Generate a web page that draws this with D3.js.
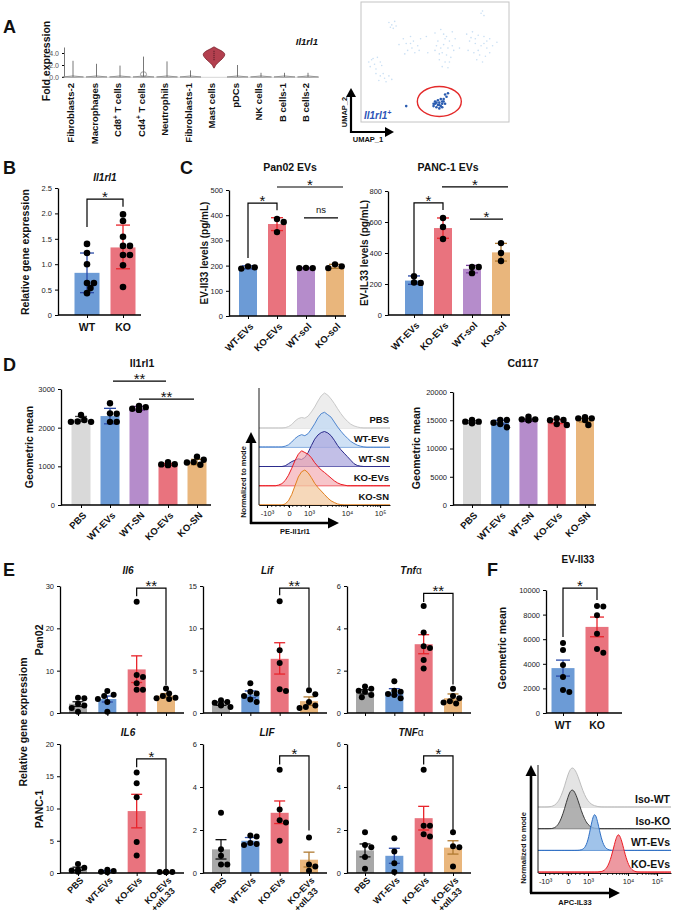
<!DOCTYPE html>
<html><head><meta charset="utf-8">
<script src="https://cdn.jsdelivr.net/npm/d3@7"></script>
<style>body{margin:0;background:#fff}svg{display:block}</style>
</head><body>
<svg id="fig" width="673" height="919"></svg>
<script>
// ================= DATA =================
// Panel A
const cellTypes = ["Fibroblasts-2","Macrophages","Cd8+ T cells","Cd4+ T cells","Neutrophils","Fibroblasts-1","Mast cells","pDCs","NK cells","B cells-1","B cells-2"];
const violinMax = [2.7,2.2,1.9,3.4,2.6,1.1,5.0,2.0,0.7,0.7,0.7];
const violinTicks = [0,2,4];
const mastLevels = [1.5,1.9,2.3,2.7,3.1,3.5,3.8,4.1,4.4,4.7,5.0];
const mastWidth  = [0.03,0.12,0.3,0.55,0.8,0.95,1.0,0.9,0.65,0.3,0.03];
const umapLight = [[18,84],[20,82],[22,85],[19,80],[23,81],[21,79],
 [28,70],[30,66],[33,72],[35,68],[38,64],[31,60],[36,58],[40,70],[34,62],[29,57],[39,60],[33,66],
 [50,75],[54,78],[58,72],[62,76],[52,68],[56,65],[60,68],[64,70],[50,60],[55,58],[59,62],[63,60],[53,52],[57,50],[61,54],[55,46],[59,45],[51,64],[57,70],[62,64],[54,62],[58,56],[60,50],[56,74],[53,57],
 [72,74],[76,76],[80,73],[84,72],[88,70],[74,68],[78,66],[82,64],[86,62],[90,64],[73,60],[77,58],[81,56],[85,55],[79,52],[83,50],[88,58],[75,71],[80,60],[84,66],[78,70],[86,68],
 [4,50],[6,52],[8,48],[10,54],[12,50],[5,46],[9,44],[13,47],[7,53],
 [9,40],[12,38],[15,36],[18,38],[11,34],[16,33],[20,35],[14,40],
 [82,92],[84,90],[83,94],[45,58],[67,62],[25,65],[44,72],[93,67]];
const umapDark = [[49,12],[50,14],[51,11],[52,13],[53,15],[54,12],[55,14],[56,16],[52,17],[54,18],[50,16],[53,10],[55,11],[57,14],[51,15],[56,18],[58,20],[57,22],[59,23],[53,13],[55,16],[49,14],[30,12]];

// Panel B
const bCats = ["WT","KO"];
const bMeans = [0.83,1.33];
const bErr = [[0.44,1.22],[0.91,1.77]];
const bPoints = [[1.40,1.22,1.0,0.63,0.63,0.53,0.43],[1.98,1.85,1.54,1.36,1.36,1.18,1.18,0.98,0.55]];
const bTicks = [0,0.5,1,1.5,2,2.5];
const bSig = [{kind:"bracket",a:0,b:1,top:2.28,la:1.73,lb:2.13,label:"*"}];

// Panel C
const cCats = ["WT-EVs","KO-EVs","WT-sol","KO-sol"];
const pan02Means = [193,365,190,197];
const pan02Err = [[187,199],[339,390],[188,192],[189,205]];
const pan02Points = [[188,197,193],[385,333,373],[190,191,190],[190,205,197]];
const pan02Ticks = [0,100,200,300,400,500];
const pan02Sig = [{kind:"bracket",a:0,b:1,top:448,la:230,lb:420,label:"*"},{kind:"line",a:1,b:3,top:512,label:"*",dx:[0,8]},{kind:"line",a:2,b:3,top:389,label:"ns",dx:[-2,3]}];
const panc1Means = [222,561,298,404];
const panc1Err = [[198,252],[495,626],[272,320],[348,462]];
const panc1Points = [[250,210,207],[626,568,490],[310,270,310],[464,400,348]];
const panc1Ticks = [0,200,400,600,800];
const panc1Sig = [{kind:"bracket",a:0,b:1,top:723,la:271,lb:677,label:"*"},{kind:"line",a:1,b:3,top:826,label:"*",dx:[-1,7]},{kind:"line",a:2,b:3,top:619,label:"*",dx:[-2,2]}];

// Panel D
const dCats = ["PBS","WT-EVs","WT-SN","KO-EVs","KO-SN"];
const il1rl1Means = [2220,2300,2500,1050,1110];
const il1rl1Err = [[2160,2290],[2100,2500],[2450,2550],[1025,1075],[1040,1180]];
const il1rl1Points = [[2150,2200,2150,2330,2160],[2630,2370,2360,2150,2150],[2560,2530,2490,2470,2460],[1110,1030,1050,1045,1055],[1250,1170,1110,1100,1040]];
const il1rl1Ticks = [0,1000,2000,3000];
const il1rl1Sig = [{kind:"line",a:1,b:3,top:3204,label:"**",dx:[3,-2]},{kind:"line",a:2,b:4,top:2739,label:"**",dx:[0,-3]}];
const cd117Means = [14700,14700,14950,14750,15000];
const cd117Err = [[14500,14900],[14300,15000],[14800,15200],[14400,15100],[14700,15300]];
const cd117Points = [[14460,15040,14750,14750],[15040,15040,13750,14570,14330],[15630,15160,15160,15010,15050],[15340,15040,15010,14160,14330],[15520,15340,15340,15040,14160]];
const cd117Ticks = [0,5000,10000,15000,20000];
// flow histograms (normalized to mode), bins every 2.5 channel units over 0..100
const histStep = 2.5;
const histTickLabels = ["-10³","0","10³","10⁴","10⁵"];
const dHistTicks = [6.1,22.9,38.2,67.2,92.4];
const dHistNames = ["PBS","WT-EVs","WT-SN","KO-EVs","KO-SN"];
const dHistPBS  = [0,0,0,0,0,0,0,0,0.01,0.04,0.1,0.2,0.27,0.3,0.28,0.34,0.46,0.6,0.77,0.92,1.0,0.94,0.83,0.7,0.55,0.41,0.29,0.19,0.11,0.06,0.03,0.01,0,0,0,0,0,0,0,0,0];
const dHistWTEV = [0.01,0.01,0.01,0.01,0.01,0.01,0.01,0.01,0.03,0.07,0.15,0.25,0.32,0.36,0.33,0.39,0.52,0.67,0.84,0.96,1.0,0.93,0.86,0.72,0.58,0.46,0.35,0.26,0.17,0.11,0.06,0.03,0.01,0,0,0,0,0,0,0,0];
const dHistWTSN = [0,0,0,0,0,0,0,0,0.02,0.08,0.14,0.18,0.22,0.2,0.26,0.4,0.6,0.78,0.9,0.97,1.0,0.96,0.88,0.75,0.6,0.48,0.38,0.28,0.18,0.08,0.03,0.01,0,0,0,0,0,0,0,0,0];
const dHistKOEV = [0,0,0,0,0,0,0.02,0.06,0.15,0.3,0.5,0.72,0.9,1.0,0.95,0.9,0.8,0.66,0.55,0.45,0.38,0.3,0.22,0.14,0.08,0.04,0.02,0,0,0,0,0,0,0,0,0,0,0,0,0,0];
const dHistKOSN = [0,0,0,0,0,0,0,0,0.03,0.12,0.3,0.55,0.8,0.95,1.0,0.92,0.78,0.62,0.5,0.4,0.3,0.2,0.12,0.07,0.03,0.01,0,0,0,0,0,0,0,0,0,0,0,0,0,0,0];

// Panel E
const eCats = ["PBS","WT-EVs","KO-EVs","KO-EVs\n+αIL33"];
const il6MouseMeans = [2.2,3.3,10.3,4.1];
const il6MouseErr = [[1.55,2.65],[2.6,4.0],[7.2,13.5],[3.6,4.6]];
const il6MousePoints = [[3.6,3.5,2.2,1.8,1.2,0.3],[5.2,4.3,4.0,3.3,2.6,0.3],[26.3,9.0,8.5,7.0,5.5,5.5],[5.8,4.6,4.0,3.6,3.5,3.3]];
const lifMouseMeans = [1.1,2.2,6.4,1.4];
const lifMouseErr = [[0.9,1.3],[1.8,2.6],[4.6,8.3],[0.9,1.9]];
const lifMousePoints = [[1.5,1.3,1.2,1.0,0.9,0.7],[3.5,2.5,2.3,2.0,1.6,1.3],[13.2,7.4,5.9,2.8,2.6],[2.7,2.2,1.3,0.9,0.6,0.7]];
const tnfMouseMeans = [1.0,1.0,3.25,0.7];
const tnfMouseErr = [[0.9,1.1],[0.85,1.15],[2.8,3.7],[0.5,0.9]];
const tnfMousePoints = [[1.25,1.15,1.05,1.0,0.85,0.75],[1.5,1.05,1.0,0.9,0.85,0.7],[5.05,3.8,3.15,3.07,2.5,2.1],[1.15,0.8,0.7,0.55,0.5,0.45]];
const il6HumanMeans = [0.65,0.28,9.6,0.15];
const il6HumanErr = [[0.4,0.9],[0.15,0.4],[7.0,12.2],[0.1,0.2]];
const il6HumanPoints = [[1.4,0.8,0.5,0.4,0.2],[0.5,0.3,0.2,0.1],[15.6,13.9,11.75,4.8,2.7],[0.2,0.15,0.15,0.1]];
const lifHumanMeans = [1.1,1.5,2.8,0.62];
const lifHumanErr = [[0.65,1.55],[1.35,1.65],[2.3,3.35],[0.28,0.97]];
const lifHumanPoints = [[2.8,1.1,0.8,0.4,0.4],[1.75,1.7,1.4,1.35,1.3],[4.8,2.95,2.45,2.35,1.5],[1.65,0.4,0.3,0.1]];
const tnfHumanMeans = [1.05,0.8,2.55,1.18];
const tnfHumanErr = [[0.75,1.35],[0.45,1.15],[2.0,3.1],[0.88,1.5]];
const tnfHumanPoints = [[1.9,1.3,1.2,0.75,0.2],[1.62,1.0,0.45,0.05],[4.8,2.2,2.2,1.8,1.7],[1.9,1.25,1.2,0.3]];

// Panel F
const fCats = ["WT","KO"];
const fMeans = [3650,7000];
const fErr = [[3000,4300],[6200,7800]];
const fPoints = [[5690,5120,3900,2930,1870,1710],[8700,8650,7950,6450,5200,4900]];
const fTicks = [0,2000,4000,6000,8000,10000];
const fSig = [{kind:"bracket",a:0,b:1,top:10160,la:6180,lb:9190,label:"*"}];
const fHistTicks = [5.3,22.6,37.6,67.7,89.5];
const fHistNames = ["Iso-WT","Iso-KO","WT-EVs","KO-EVs"];
const fHistIsoWT = [0,0,0,0,0.01,0.04,0.12,0.28,0.52,0.82,1.0,0.96,0.78,0.52,0.3,0.15,0.07,0.03,0.01,0,0,0,0,0,0,0,0,0,0,0,0,0,0,0,0,0,0,0,0,0,0];
const fHistIsoKO = [0,0,0,0,0,0.02,0.09,0.25,0.5,0.8,1.0,0.94,0.72,0.45,0.24,0.1,0.04,0.01,0,0,0,0,0,0,0,0,0,0,0,0,0,0,0,0,0,0,0,0,0,0,0];
const fHistWTEV = [0,0,0,0,0,0,0,0,0,0,0,0,0,0.01,0.05,0.22,0.65,1.0,0.7,0.3,0.08,0.02,0,0,0,0,0,0,0,0,0,0,0,0,0,0,0,0,0,0,0];
const fHistKOEV = [0,0,0,0,0,0,0,0,0,0,0,0,0,0,0,0,0,0,0,0.01,0.04,0.14,0.36,0.7,1.0,0.85,0.5,0.22,0.07,0.02,0,0,0,0,0,0,0,0,0,0,0];

// ================= DRAWING =================
const FONT = "Arial, 'Liberation Sans', Helvetica, sans-serif";
const svg = d3.select("#fig").attr("font-family", FONT);
const COL = {grey:"#d9d9d9", dgrey:"#a8a8a8", blue:"#6c9bd6", red:"#e9737e", purple:"#b58ccb", orange:"#e9b67c"};
const ECOL = {grey:"#444", black:"#111", blue:"#2a4aa8", red:"#e8242b", purple:"#7b3f9e", orange:"#b07a30"};

function T(x,y,s,o={}){
  let parent = svg, tx = x, ty = y;
  if(o.rotate!=null){
    parent = svg.append("g").attr("transform",`translate(${x},${y}) rotate(${o.rotate})`);
    tx = 0; ty = 0;
  }
  const t = parent.append("text").attr("x",tx).attr("y",ty).text(s)
    .attr("font-size",o.size||10).attr("font-weight",o.weight||"normal")
    .attr("text-anchor",o.anchor||"start").attr("fill",o.fill||"#111");
  if(o.italic) t.attr("font-style","italic");
  return t;
}
function arrow(x1,y1,x2,y2,w,hl,hw){
  const dx=x2-x1, dy=y2-y1, L=Math.hypot(dx,dy), ux=dx/L, uy=dy/L;
  const bx=x2-ux*hl, by=y2-uy*hl;
  svg.append("line").attr("x1",x1).attr("y1",y1).attr("x2",bx).attr("y2",by).attr("stroke","#000").attr("stroke-width",w);
  svg.append("path").attr("d",`M${x2},${y2}L${bx-uy*hw},${by+ux*hw}L${bx+uy*hw},${by-ux*hw}Z`).attr("fill","#000");
}
function styleAxis(ax,fs){
  ax.attr("font-family",FONT).attr("font-size",fs||7.5);
  ax.select(".domain").attr("stroke","#000").attr("stroke-width",1.3);
  ax.selectAll(".tick line").attr("stroke","#000").attr("stroke-width",1);
  ax.selectAll(".tick text").attr("fill","#222");
}
function swarm(vals,y,r,maxOff){
  const idx = vals.map((v,i)=>i).sort((a,b)=>vals[b]-vals[a]);
  const placed=[], off=new Array(vals.length).fill(0), step=r*1.05;
  idx.forEach(i=>{
    const yy=y(vals[i]); const cand=[0];
    for(let k=1;k<12;k++){cand.push(k*step,-k*step);}
    let best=cand.find(dx=>Math.abs(dx)<=maxOff && placed.every(p=>Math.hypot(p.x-dx,p.y-yy)>=2*r*0.9));
    if(best===undefined) best=0;
    off[i]=best; placed.push({x:best,y:yy});
  });
  return off;
}
function barPanel(cfg){
  const g = svg.append("g");
  const y = d3.scaleLinear().domain([0,cfg.ymax]).range([cfg.yb,cfg.yt]);
  const x = d3.scalePoint().domain(cfg.cats).range([cfg.c0,cfg.c1]);
  const r = cfg.r||3.2, capW = cfg.capW||cfg.bw*0.6;
  cfg.cats.forEach((c,i)=>{
    g.append("rect").attr("x",x(c)-cfg.bw/2).attr("y",y(cfg.means[i])).attr("width",cfg.bw)
     .attr("height",y(0)-y(cfg.means[i])).attr("fill",cfg.colors[i]);
  });
  cfg.cats.forEach((c,i)=>{
    const cx=x(c), ec=cfg.errColors[i];
    g.append("line").attr("x1",cx).attr("x2",cx).attr("y1",y(cfg.err[i][0])).attr("y2",y(cfg.err[i][1])).attr("stroke",ec).attr("stroke-width",1.3);
    cfg.err[i].forEach(v=>g.append("line").attr("x1",cx-capW/2).attr("x2",cx+capW/2).attr("y1",y(v)).attr("y2",y(v)).attr("stroke",ec).attr("stroke-width",1.3));
  });
  cfg.cats.forEach((c,i)=>{
    const vals=cfg.points[i], offs=swarm(vals,y,r,cfg.bw/2+2);
    vals.forEach((v,j)=>g.append("circle").attr("cx",x(c)+offs[j]).attr("cy",y(v)).attr("r",r).attr("fill","#000"));
  });
  const ay = g.append("g").attr("transform",`translate(${cfg.x0},0)`)
    .call(d3.axisLeft(y).tickValues(cfg.ticks).tickSize(3).tickSizeOuter(0).tickFormat(cfg.fmt||(d=>String(d))));
  styleAxis(ay);
  g.append("line").attr("x1",cfg.x0).attr("x2",cfg.x1).attr("y1",y(0)).attr("y2",y(0)).attr("stroke","#000").attr("stroke-width",1.3);
  const ax = g.append("g").attr("transform",`translate(0,${y(0)})`).call(d3.axisBottom(x).tickSize(3).tickFormat(""));
  ax.select(".domain").remove();
  ax.selectAll(".tick line").attr("stroke","#000").attr("stroke-width",1);
  if(cfg.labels==="flat"){
    cfg.cats.forEach(c=>T(x(c),y(0)+16,c,{size:10.5,weight:"bold",anchor:"middle"}));
  } else if(cfg.labels==="rot"){
    const fs = cfg.labSize||9.5, oy = cfg.labOffY||11;
    cfg.cats.forEach(c=>{
      const ax0=x(c)+6, ay0=y(0)+oy;
      const t=svg.append("g").attr("transform",`translate(${ax0},${ay0}) rotate(-45)`).append("text")
        .attr("text-anchor","end").attr("font-size",fs).attr("font-weight","bold").attr("fill","#111");
      c.split("\n").forEach((ln,k)=>t.append("tspan").attr("x",k?-5:0).attr("y",k?fs*1.1:0).text(ln));
    });
  }
  (cfg.sig||[]).forEach(s=>{
    const xa=x(cfg.cats[s.a]), xb=x(cfg.cats[s.b]);
    if(s.kind==="bracket"){
      g.append("path").attr("d",`M${xa},${y(s.la)}V${y(s.top)}H${xb}V${y(s.lb)}`).attr("fill","none").attr("stroke","#000").attr("stroke-width",1.2);
      T((xa+xb)/2,y(s.top)+3,s.label,{size:15,anchor:"middle"});
    } else {
      const dx=s.dx||[0,0];
      g.append("line").attr("x1",xa+dx[0]).attr("x2",xb+dx[1]).attr("y1",y(s.top)).attr("y2",y(s.top)).attr("stroke","#000").attr("stroke-width",1.2);
      const mx=(xa+dx[0]+xb+dx[1])/2;
      if(s.label==="ns") T(mx,y(s.top)-5,"ns",{size:9.5,anchor:"middle"});
      else T(mx,y(s.top)+3,s.label,{size:15,anchor:"middle"});
    }
  });
  return {x,y,g};
}
function histPanel(cfg){
  const g = svg.append("g");
  const x = d3.scaleLinear().domain([0,100]).range([cfg.xl,cfg.xr]);
  const h = d3.scaleLinear().domain([0,1]).range([0,cfg.peakH]);
  const baseY = i=>cfg.base0+i*cfg.rowH;
  cfg.rows.forEach((r,i)=>{
    const b=baseY(i);
    g.append("line").attr("x1",cfg.xl).attr("x2",cfg.xr).attr("y1",b).attr("y2",b).attr("stroke",r.stroke).attr("stroke-width",0.9);
    const area=d3.area().x((d,j)=>x(j*histStep)).y0(b).y1(d=>b-h(d)).curve(cfg.curve);
    g.append("path").datum(r.values).attr("d",area).attr("fill",r.fill).attr("fill-opacity",r.op);
    const line=d3.line().x((d,j)=>x(j*histStep)).y(d=>b-h(d)).curve(cfg.curve);
    g.append("path").datum(r.values).attr("d",line).attr("fill","none").attr("stroke",r.stroke).attr("stroke-width",1);
  });
  cfg.rows.forEach((r,i)=>T(cfg.xr-1,baseY(i)-cfg.labOff,r.name,{size:cfg.labSize,weight:"bold",anchor:"end"}));
  g.append("line").attr("x1",cfg.xl).attr("x2",cfg.xl).attr("y1",cfg.yTop).attr("y2",cfg.axisY).attr("stroke","#000").attr("stroke-width",0.9);
  const ax=g.append("g").attr("transform",`translate(0,${cfg.axisY})`)
    .call(d3.axisBottom(x).tickValues(cfg.ticks).tickSize(3).tickSizeOuter(0).tickFormat((d,i)=>histTickLabels[i]));
  styleAxis(ax,7.5); ax.select(".domain").attr("stroke-width",0.9);
  const t=cfg.ticks, minor=[];
  for(let k=1;k<10;k++){ minor.push(t[0]+(t[2]-t[0])*k/10); }
  for(let dct=2;dct<4;dct++) for(let m=2;m<10;m++){ minor.push(t[dct]+(t[dct+1]-t[dct])*Math.log10(m)); }
  const mx=g.append("g").attr("transform",`translate(0,${cfg.axisY})`).call(d3.axisBottom(x).tickValues(minor).tickSize(2).tickFormat(""));
  mx.select(".domain").remove(); mx.selectAll(".tick line").attr("stroke","#000").attr("stroke-width",0.7);
  return {x};
}

// ---------- Panel A ----------
T(3,33,"A",{size:18,weight:"bold"});
const vy = d3.scaleLinear().domain([0,5]).range([77,47]);
const vx = d3.scalePoint().domain(cellTypes).range([73,308]);
const vAxis = svg.append("g").attr("transform","translate(64,0)").call(d3.axisLeft(vy).tickValues(violinTicks).tickSize(2).tickSizeOuter(0));
styleAxis(vAxis,7); vAxis.select(".domain").attr("stroke","#555").attr("stroke-width",0.8);
vAxis.selectAll(".tick text").attr("fill","#555");
cellTypes.forEach((c,i)=>{
  const cx=vx(c), y0=vy(0);
  if(c==="Mast cells"){
    const pts=mastLevels.map((v,k)=>({v,w:mastWidth[k]}));
    const ar=d3.area().y(d=>vy(d.v)).x0(d=>cx-d.w*11).x1(d=>cx+d.w*11).curve(d3.curveBasis);
    svg.append("path").datum(pts).attr("d",ar).attr("fill","#b3404f").attr("stroke","#7a1e2a").attr("stroke-width",0.8);
    svg.append("line").attr("x1",cx).attr("x2",cx).attr("y1",vy(2.8)).attr("y2",vy(4.5)).attr("stroke","#2a0a10").attr("stroke-width",0.8).attr("stroke-dasharray","1,1");
  } else {
    svg.append("path").attr("d",`M${cx-10.5},${y0}Q${cx},${y0-2.2} ${cx+10.5},${y0}Q${cx},${y0+0.8} ${cx-10.5},${y0}Z`).attr("fill","#eee").attr("stroke","#777").attr("stroke-width",0.7);
    svg.append("line").attr("x1",cx).attr("x2",cx).attr("y1",y0).attr("y2",vy(violinMax[i])).attr("stroke","#555").attr("stroke-width",0.8);
    if(c==="Cd4+ T cells") svg.append("ellipse").attr("cx",cx).attr("cy",vy(0.45)).attr("rx",3).attr("ry",2.6).attr("fill","none").attr("stroke","#777").attr("stroke-width",0.7);
  }
  const lx=cx+1, ly=83;
  const t=svg.append("g").attr("transform",`translate(${lx},${ly}) rotate(-90)`).append("text")
    .attr("text-anchor","end").attr("font-size",9.5).attr("font-weight","bold").attr("fill","#111");
  if(c.includes("+")){
    const [a,b]=c.split("+");
    t.append("tspan").text(a); t.append("tspan").attr("dy",-3.5).attr("font-size",6.5).text("+"); t.append("tspan").attr("dy",3.5).text(b);
  } else t.text(c);
});
svg.append("line").attr("x1",64).attr("x2",319).attr("y1",vy(0)+0.3).attr("y2",vy(0)+0.3).attr("stroke","#aaa").attr("stroke-width",0.5);
T(50,61,"Fold expression",{size:10.5,weight:"bold",anchor:"middle",rotate:-90});
T(318,45,"Il1rl1",{size:9.5,weight:"bold",italic:true,anchor:"end"});
// UMAP
svg.append("rect").attr("x",361).attr("y",2).attr("width",148).attr("height",120).attr("fill","#fff").attr("stroke","#c4c4c4").attr("stroke-width",1);
const ux=d3.scaleLinear().domain([0,100]).range([363,507]);
const uy=d3.scaleLinear().domain([0,100]).range([120,4]);
svg.append("g").selectAll("circle").data(umapLight).join("circle").attr("cx",d=>ux(d[0])).attr("cy",d=>uy(d[1])).attr("r",0.8).attr("fill","#9cc4ea").attr("opacity",0.55);
svg.append("g").selectAll("circle").data(umapDark).join("circle").attr("cx",d=>ux(d[0])).attr("cy",d=>uy(d[1])).attr("r",1.3).attr("fill","#2a5cb0");
svg.append("ellipse").attr("cx",ux(53)).attr("cy",uy(16)).attr("rx",22).attr("ry",15).attr("fill","none").attr("stroke","#e42a2a").attr("stroke-width",1.4);
{const t=T(364,119,"Il1rl1",{size:10,weight:"bold",italic:true,fill:"#2d55b8"}); t.append("tspan").attr("dy",-4).attr("font-size",7).text("+");}
arrow(351,133,351,88,2.2,9,5);
arrow(350,132,394,132,2.2,9,5);
T(347,112,"UMAP_2",{size:7.5,weight:"bold",anchor:"middle",rotate:-90});
T(368,142,"UMAP_1",{size:7.5,weight:"bold",anchor:"middle"});

// ---------- Panel B ----------
T(3,174,"B",{size:18,weight:"bold"});
T(105,181,"Il1rl1",{size:10,weight:"bold",italic:true,anchor:"middle"});
barPanel({cats:bCats,means:bMeans,err:bErr,points:bPoints,ticks:bTicks,fmt:d=>d===0?"0":d.toFixed(1),
  x0:58,x1:141,yb:315,yt:188,ymax:2.5,c0:87,c1:123,bw:25,r:3.3,capW:14,
  colors:[COL.blue,COL.red],errColors:[ECOL.blue,ECOL.red],labels:"flat",sig:bSig});
T(29,252,"Relative gene expression",{size:10.5,weight:"bold",anchor:"middle",rotate:-90});

// ---------- Panel C ----------
T(180,174,"C",{size:18,weight:"bold"});
T(290,171,"Pan02 EVs",{size:10.5,weight:"bold",anchor:"middle"});
barPanel({cats:cCats,means:pan02Means,err:pan02Err,points:pan02Points,ticks:pan02Ticks,
  x0:229,x1:346,yb:316,yt:190,ymax:500,c0:248,c1:335,bw:18,r:3.2,capW:12,
  colors:[COL.blue,COL.red,COL.purple,COL.orange],errColors:[ECOL.blue,ECOL.red,ECOL.purple,ECOL.orange],labels:"rot",sig:pan02Sig});
T(208,253,"EV-Il33 levels (pg/mL)",{size:10,weight:"bold",anchor:"middle",rotate:-90});
T(448,171,"PANC-1 EVs",{size:10.5,weight:"bold",anchor:"middle"});
barPanel({cats:cCats,means:panc1Means,err:panc1Err,points:panc1Points,ticks:panc1Ticks,
  x0:388,x1:510,yb:315,yt:191,ymax:800,c0:414,c1:501,bw:18,r:3.2,capW:12,
  colors:[COL.blue,COL.red,COL.purple,COL.orange],errColors:[ECOL.blue,ECOL.red,ECOL.purple,ECOL.orange],labels:"rot",sig:panc1Sig});
T(368,253,"EV-IL33 levels (pg/mL)",{size:10,weight:"bold",anchor:"middle",rotate:-90});

// ---------- Panel D ----------
T(3,371,"D",{size:18,weight:"bold"});
T(142,367,"Il1rl1",{size:10.5,weight:"bold",anchor:"middle"});
barPanel({cats:dCats,means:il1rl1Means,err:il1rl1Err,points:il1rl1Points,ticks:il1rl1Ticks,
  x0:61,x1:211,yb:505,yt:389,ymax:3000,c0:81,c1:197,bw:19,r:3.2,capW:12,
  colors:[COL.grey,COL.blue,COL.purple,COL.red,COL.orange],errColors:[ECOL.grey,ECOL.blue,ECOL.purple,ECOL.red,ECOL.orange],labels:"rot",sig:il1rl1Sig});
T(33,447,"Geometric mean",{size:10.5,weight:"bold",anchor:"middle",rotate:-90});
histPanel({xl:259,xr:390,yTop:388,base0:428,rowH:19.25,peakH:35,axisY:505,ticks:dHistTicks,curve:d3.curveLinear,labOff:5,labSize:9.5,
  rows:[
    {name:dHistNames[0],values:dHistPBS, stroke:"#c9c9c9",fill:"#ededed",op:1},
    {name:dHistNames[1],values:dHistWTEV,stroke:"#4f86cf",fill:"#c3daf2",op:0.8},
    {name:dHistNames[2],values:dHistWTSN,stroke:"#2b2b8c",fill:"#aeaadf",op:0.75},
    {name:dHistNames[3],values:dHistKOEV,stroke:"#ec1c24",fill:"#f2a6ad",op:0.65},
    {name:dHistNames[4],values:dHistKOSN,stroke:"#e2801f",fill:"#f3cba3",op:0.75}]});
arrow(251,524,251,432,2.6,11,5.5);
arrow(250,523,339,523,2.6,11,5.5);
T(246,482,"Normalized to mode",{size:7.5,weight:"bold",anchor:"middle",rotate:-90});
T(295,534,"PE-Il1rl1",{size:7.5,weight:"bold",anchor:"middle"});
T(523,367,"Cd117",{size:10.5,weight:"bold",anchor:"middle"});
barPanel({cats:dCats,means:cd117Means,err:cd117Err,points:cd117Points,ticks:cd117Ticks,
  x0:453,x1:596,yb:505,yt:392,ymax:20000,c0:472,c1:585,bw:18,r:3.2,capW:12,
  colors:[COL.grey,COL.blue,COL.purple,COL.red,COL.orange],errColors:[ECOL.grey,ECOL.blue,ECOL.purple,ECOL.red,ECOL.orange],labels:"rot",sig:[]});
T(420,448,"Geometric mean",{size:10.5,weight:"bold",anchor:"middle",rotate:-90});

// ---------- Panel E ----------
T(3,576,"E",{size:18,weight:"bold"});
const eColors=[COL.dgrey,COL.blue,COL.red,COL.orange], eErrC=[ECOL.black,ECOL.blue,ECOL.red,ECOL.orange];
const eX=[60,203,347];
const eTop=[
  {m:il6MouseMeans,e:il6MouseErr,p:il6MousePoints,ymax:30,ticks:[0,10,20,30],sig:[{kind:"bracket",a:2,b:3,top:29.5,la:27.6,lb:6.6,label:"**"}]},
  {m:lifMouseMeans,e:lifMouseErr,p:lifMousePoints,ymax:15,ticks:[0,5,10,15],sig:[{kind:"bracket",a:2,b:3,top:14.75,la:13.9,lb:3.0,label:"**"}]},
  {m:tnfMouseMeans,e:tnfMouseErr,p:tnfMousePoints,ymax:6,ticks:[0,2,4,6],sig:[{kind:"bracket",a:2,b:3,top:5.65,la:5.25,lb:1.35,label:"**"}]}];
const eBot=[
  {m:il6HumanMeans,e:il6HumanErr,p:il6HumanPoints,ymax:20,ticks:[0,5,10,15,20],sig:[{kind:"bracket",a:2,b:3,top:17.7,la:16.4,lb:0.6,label:"*"}]},
  {m:lifHumanMeans,e:lifHumanErr,p:lifHumanPoints,ymax:6,ticks:[0,2,4,6],sig:[{kind:"bracket",a:2,b:3,top:5.45,la:5.05,lb:1.98,label:"*"}]},
  {m:tnfHumanMeans,e:tnfHumanErr,p:tnfHumanPoints,ymax:6,ticks:[0,2,4,6],sig:[{kind:"bracket",a:2,b:3,top:5.45,la:5.05,lb:2.0,label:"*"}]}];
eTop.forEach((d,i)=>barPanel({cats:eCats,means:d.m,err:d.e,points:d.p,ticks:d.ticks,x0:eX[i],x1:eX[i]+124,yb:713,yt:586,ymax:d.ymax,
  c0:eX[i]+18,c1:eX[i]+106,bw:18,r:3,capW:11,colors:eColors,errColors:eErrC,labels:"none",sig:d.sig}));
eBot.forEach((d,i)=>barPanel({cats:eCats,means:d.m,err:d.e,points:d.p,ticks:d.ticks,x0:eX[i],x1:eX[i]+124,yb:873,yt:744,ymax:d.ymax,
  c0:eX[i]+18,c1:eX[i]+106,bw:18,r:3,capW:11,colors:eColors,errColors:eErrC,labels:"rot",labSize:9,labOffY:8,sig:d.sig}));
function geneTitle(x,y,ital,greek){
  const t=T(x,y,"",{size:10,weight:"bold",anchor:"middle"});
  t.append("tspan").attr("font-style","italic").text(ital);
  if(greek) t.append("tspan").attr("font-weight","normal").text(greek);
}
geneTitle(eX[0]+68,574,"Il6"); geneTitle(eX[1]+64,574,"Lif"); geneTitle(eX[2]+64,574,"Tnf","α");
geneTitle(eX[0]+68,736,"IL6"); geneTitle(eX[1]+64,736,"LIF"); geneTitle(eX[2]+64,736,"TNF","α");
T(43,640,"Pan02",{size:10.5,weight:"bold",anchor:"middle",rotate:-90});
T(43,809,"PANC-1",{size:10.5,weight:"bold",anchor:"middle",rotate:-90});
T(27,722,"Relative gene expressiom",{size:10.5,weight:"bold",anchor:"middle",rotate:-90});

// ---------- Panel F ----------
T(487,576,"F",{size:18,weight:"bold"});
T(578,563,"EV-Il33",{size:10,weight:"bold",anchor:"middle"});
barPanel({cats:fCats,means:fMeans,err:fErr,points:fPoints,ticks:fTicks,
  x0:546,x1:622,yb:713,yt:590,ymax:10000,c0:563,c1:597,bw:23,r:3,capW:14,
  colors:[COL.blue,COL.red],errColors:[ECOL.blue,ECOL.red],labels:"flat",sig:fSig});
T(506,648,"Geometric mean",{size:10.5,weight:"bold",anchor:"middle",rotate:-90});
histPanel({xl:538,xr:671,yTop:765,base0:807,rowH:21.7,peakH:40,axisY:873,ticks:fHistTicks,curve:d3.curveBasis,labOff:4,labSize:10.5,
  rows:[
    {name:fHistNames[0],values:fHistIsoWT,stroke:"#bdbdbd",fill:"#e4e4e4",op:1},
    {name:fHistNames[1],values:fHistIsoKO,stroke:"#3a3a3a",fill:"#a9a9a9",op:0.9},
    {name:fHistNames[2],values:fHistWTEV,stroke:"#2f6fc4",fill:"#8fb9e6",op:0.85},
    {name:fHistNames[3],values:fHistKOEV,stroke:"#ec1c24",fill:"#e98089",op:0.8}]});
arrow(531,893,531,765,2.6,11,5.5);
arrow(530,893,620,893,2.6,11,5.5);
T(526,848,"Normalized to mode",{size:7.5,weight:"bold",anchor:"middle",rotate:-90});
T(575,905,"APC-IL33",{size:7.5,weight:"bold",anchor:"middle"});
</script></body></html>
